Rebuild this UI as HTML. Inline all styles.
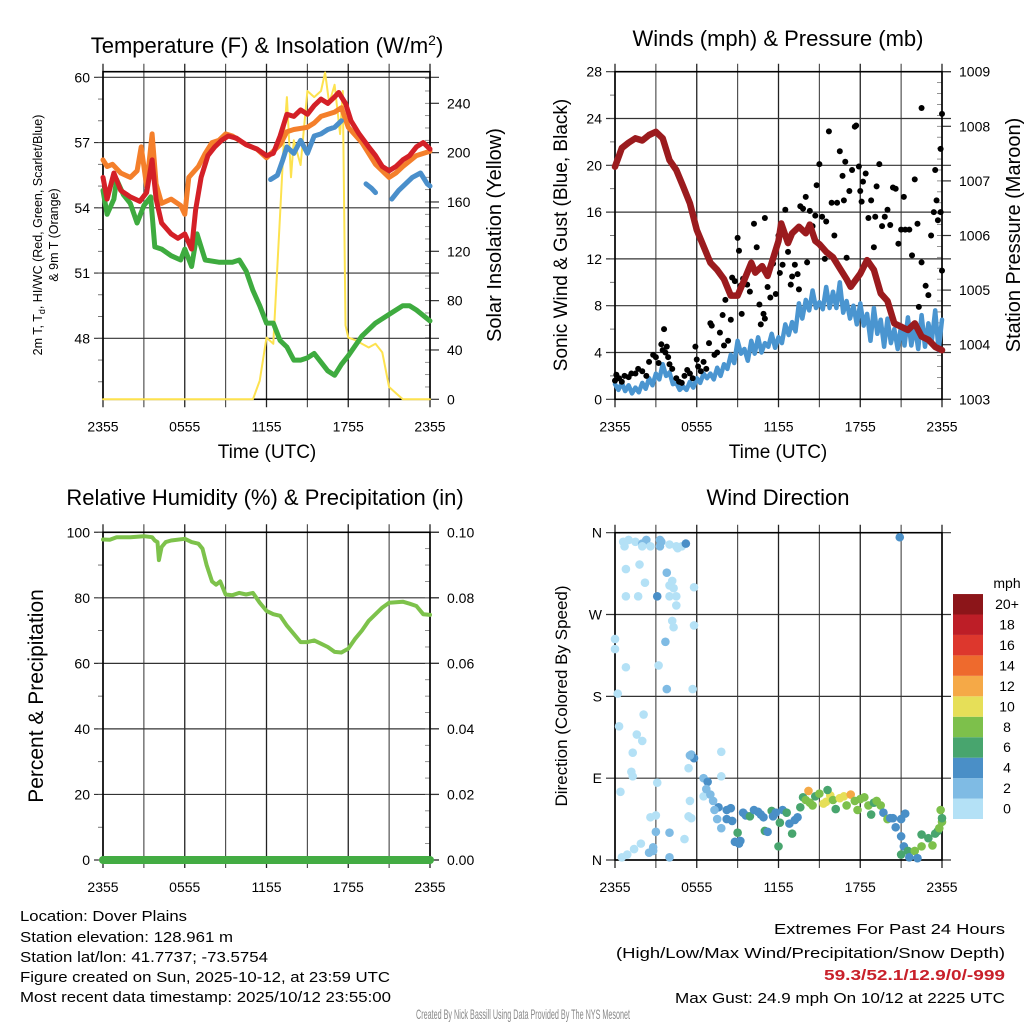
<!DOCTYPE html>
<html><head><meta charset="utf-8"><style>
body{margin:0;background:#fff}
svg{display:block;font-family:"Liberation Sans",sans-serif}
</style></head><body>
<svg id="s" width="1024" height="1024" viewBox="0 0 1024 1024">
<g id="g"></g>
<text x="267" y="53" font-size="22" text-anchor="middle">Temperature (F) &amp; Insolation (W/m<tspan dy="-8" font-size="14">2</tspan><tspan dy="8">)</tspan></text>
<text x="778" y="46" font-size="22" text-anchor="middle">Winds (mph) &amp; Pressure (mb)</text>
<text x="265" y="505" font-size="22" text-anchor="middle">Relative Humidity (%) &amp; Precipitation (in)</text>
<text x="778" y="505" font-size="22" text-anchor="middle">Wind Direction</text>
<text x="267" y="458" font-size="19" text-anchor="middle">Time (UTC)</text>
<text x="778" y="458" font-size="19" text-anchor="middle">Time (UTC)</text>
<text transform="translate(42,235) rotate(-90)" font-size="12.5" text-anchor="middle">2m T, T<tspan dy="3" font-size="9">d</tspan><tspan dy="-3">, HI/WC (Red, Green, Scarlet/Blue)</tspan></text>
<text transform="translate(58,235) rotate(-90)" font-size="12.5" text-anchor="middle">&amp; 9m T (Orange)</text>
<text transform="translate(501,235) rotate(-90)" font-size="20" text-anchor="middle">Solar Insolation (Yellow)</text>
<text transform="translate(567,235) rotate(-90)" font-size="19" text-anchor="middle">Sonic Wind &amp; Gust (Blue, Black)</text>
<text transform="translate(1020,235) rotate(-90)" font-size="20" text-anchor="middle">Station Pressure (Maroon)</text>
<text transform="translate(43,696) rotate(-90)" font-size="21" text-anchor="middle">Percent &amp; Precipitation</text>
<text transform="translate(567,696) rotate(-90)" font-size="17" text-anchor="middle">Direction (Colored By Speed)</text>
<text x="1007" y="588" font-size="14" text-anchor="middle">mph</text>
<g font-size="14.5">
<text x="20" y="921" textLength="167" lengthAdjust="spacingAndGlyphs">Location: Dover Plains</text>
<text x="20" y="942" textLength="213" lengthAdjust="spacingAndGlyphs">Station elevation: 128.961 m</text>
<text x="20" y="962" textLength="248" lengthAdjust="spacingAndGlyphs">Station lat/lon: 41.7737; -73.5754</text>
<text x="20" y="982" textLength="370" lengthAdjust="spacingAndGlyphs">Figure created on Sun, 2025-10-12, at 23:59 UTC</text>
<text x="20" y="1002" textLength="371" lengthAdjust="spacingAndGlyphs">Most recent data timestamp: 2025/10/12 23:55:00</text>
</g>
<g font-size="15">
<text x="1005" y="934" text-anchor="end" textLength="231" lengthAdjust="spacingAndGlyphs">Extremes For Past 24 Hours</text>
<text x="1005" y="958" text-anchor="end" textLength="389" lengthAdjust="spacingAndGlyphs">(High/Low/Max Wind/Precipitation/Snow Depth)</text>
<text x="1005" y="980" text-anchor="end" fill="#c8202a" font-weight="bold" textLength="181" lengthAdjust="spacingAndGlyphs">59.3/52.1/12.9/0/-999</text>
<text x="1005" y="1003" text-anchor="end" textLength="330" lengthAdjust="spacingAndGlyphs">Max Gust: 24.9 mph On 10/12 at 2225 UTC</text>
</g>
<text x="523" y="1019" font-size="14" fill="#888" text-anchor="middle" textLength="214" lengthAdjust="spacingAndGlyphs">Created By Nick Bassill Using Data Provided By The NYS Mesonet</text>
</svg>
<script>
// ---- Temperature panel data (hours since 2355) ----
const tHours=[0,0.3,0.8,1.3,2,2.7,3.2,3.6,3.9,4.3,5,5.5,6,6.5,6.8,7.2,7.7,8.2,8.7,9.2,9.8,10.5,11.3,12,12.5,13,13.5,14,14.5,15,15.5,16,16.5,17,17.3,17.8,18.2,18.8,19.5,20,20.5,21,21.5,22,22.5,23,23.5,24];
const tempRed=[55.4,54.4,55.6,54.8,54.5,54.3,54.7,56.2,54.4,53.3,52.8,52.6,52.8,52.1,53.9,55.4,56.4,56.8,57.1,57.3,57.2,56.9,56.7,56.4,56.5,57.3,58.3,58.2,58.5,58.3,58.7,59.0,58.8,59.1,59.3,58.8,58.0,57.4,56.8,56.4,55.9,55.7,55.9,56.2,56.4,56.8,57.0,56.7];
const oHours=[0,0.3,0.7,1.3,2,2.5,2.8,3.2,3.6,3.9,4.3,5,5.7,6,6.3,7,7.5,8,8.5,9,9.5,10.5,11.3,12,13,13.5,14,15,15.5,16,17,17.5,18,19,20,21,21.5,22,23,24];
const tempOrange=[56.2,55.9,56.0,55.6,55.4,55.7,56.8,55.0,57.4,55.1,54.2,54.4,54.1,53.7,55.4,55.9,56.5,57.0,57.1,57.4,57.3,56.9,56.7,56.3,56.9,57.5,57.6,57.7,57.9,58.2,58.4,58.6,57.7,57.0,56.0,55.4,55.6,55.9,56.4,56.6];
const gHours=[0,0.3,0.8,1,1.5,2,2.5,3,3.5,3.8,4.3,5,5.7,6,6.5,6.9,7.5,8.5,9.5,10,10.5,11,11.5,12,12.5,13,13.5,14,14.5,15,15.5,16,16.5,17,17.5,18,19,20,21,22,22.5,23,24];
const dewGreen=[54.8,53.7,54.4,55.3,54.6,54.2,53.3,54.1,54.5,52.2,52.1,51.8,51.6,52.1,51.3,52.8,51.6,51.5,51.5,51.6,51.1,50.2,49.5,48.7,48.7,47.9,47.6,47.0,47.0,47.1,47.3,46.9,46.5,46.3,46.8,47.2,48.1,48.7,49.1,49.5,49.5,49.3,48.8];
const bHours=[12.3,12.8,13.2,13.5,14,14.5,15,15.5,16,16.5,17,17.5,null,19.3,19.7,20,null,21.2,21.7,22.2,22.7,23.3,23.8,24];
const hiwcBlue=[55.3,55.5,56.2,56.8,56.5,57.1,56.5,57.3,57.4,57.6,57.7,58.0,null,55.1,54.9,54.7,null,54.4,54.8,55.1,55.4,55.6,55.1,55.0];
const sHours=[0,11,11.5,12,12.5,13,13.3,13.5,13.8,14,14.5,15,15.5,16,16.3,16.6,17,17.4,17.6,17.8,18,18.5,19,19.5,20,20.5,21,21.5,22,24];
const solar=[0,0,15,50,45,150,215,245,180,210,190,250,245,250,265,240,255,215,250,60,50,48,45,42,45,38,10,5,0,0];
const tempTicks=[48,51,54,57,60];
const solarTicks=[0,40,80,120,160,200,240];
// ---- Wind panel data ----
const pHours=[0,0.5,1,1.5,2,2.5,3,3.5,4,4.5,5,5.5,6,6.5,7,7.5,8,8.5,9,9.5,10,10.3,10.8,11.2,11.5,12,12.2,12.7,13,13.5,14,14.3,14.7,15,15.5,16,16.5,17,17.3,18,18.5,19,19.5,20,20.5,21,21.5,22,22.5,23,23.5,24];
const pressure=[1007.26,1007.6,1007.7,1007.78,1007.74,1007.84,1007.9,1007.78,1007.38,1007.2,1006.9,1006.59,1006.1,1005.8,1005.5,1005.37,1005.2,1004.9,1004.9,1005.19,1005.5,1005.32,1005.44,1005.26,1005.5,1005.9,1006.22,1005.86,1006.04,1006.16,1006.04,1006.2,1005.9,1005.84,1005.7,1005.6,1005.4,1005.2,1005.06,1005.3,1005.55,1005.37,1004.94,1004.8,1004.39,1004.33,1004.27,1004.39,1004.15,1004.09,1003.96,1003.9];
const wHours=[0,0.25,0.5,0.75,1,1.25,1.5,1.75,2,2.25,2.5,2.75,3,3.25,3.5,3.75,4,4.25,4.5,4.75,5,5.25,5.5,5.75,6,6.25,6.5,6.75,7,7.25,7.5,7.75,8,8.25,8.5,8.75,9,9.25,9.5,9.75,10,10.25,10.5,10.75,11,11.25,11.5,11.75,12,12.25,12.5,12.75,13,13.25,13.5,13.75,14,14.25,14.5,14.75,15,15.25,15.5,15.75,16,16.25,16.5,16.75,17,17.25,17.5,17.75,18,18.25,18.5,18.75,19,19.25,19.5,19.75,20,20.25,20.5,20.75,21,21.25,21.5,21.75,22,22.25,22.5,22.75,23,23.25,23.5,23.75,24];
const sonic=[1.3,0.8,1.4,0.7,1.2,0.5,1.0,0.6,1.4,0.9,1.8,1.2,2.2,1.7,3.0,2.0,2.3,1.3,1.4,0.8,1.1,0.8,1.5,1.0,1.8,1.4,2.2,1.8,2.2,1.7,2.7,2.0,3.0,2.6,3.8,3.1,5.0,3.9,4.3,3.3,5.0,3.9,5.3,4.0,4.8,4.5,5.6,4.4,5.3,4.8,6.4,5.5,6.6,5.8,8.2,6.9,8.5,7.6,9.3,7.8,8.3,7.7,9.6,7.8,9.2,7.8,10.0,7.4,8.4,6.9,8.0,6.4,8.2,6.3,7.3,5.0,7.8,5.6,6.8,4.5,6.9,4.8,6.0,4.3,6.3,4.6,7.0,4.6,6.3,4.3,7.2,4.5,6.5,5.0,7.6,4.2,6.8];
const gustHours=[0,0.1,0.3,0.5,0.7,1,1.2,1.5,1.7,2,2.3,2.5,2.8,3,3.2,3.4,3.5,3.6,3.7,3.8,3.9,4,4.2,4.5,4.7,4.9,5.1,5.3,5.5,5.7,5.9,6,6.1,6.3,6.5,6.7,6.9,7,7.1,7.3,7.5,7.7,7.9,8,8.1,8.3,8.5,8.6,8.8,9,9.1,9.2,9.3,9.4,9.7,9.9,10.2,10.4,10.6,10.7,10.9,11,11,11.2,11.4,11.6,11.8,12,12.1,12.3,12.5,12.7,12.9,13,13.2,13.4,13.5,13.6,13.8,14,14.1,14.3,14.5,14.7,14.8,15,15.2,15.4,15.5,15.7,15.9,16.1,16.3,16.5,16.7,16.8,16.9,17,17.2,17.4,17.6,17.7,17.9,18,18.1,18.2,18.4,18.6,18.8,19,19.1,19.2,19.4,19.6,19.8,20,20.2,20.4,20.6,20.8,21,21.2,21.3,21.6,21.8,22,22.2,22.3,22.5,22.5,22.8,23,23.2,23.4,23.5,23.6,23.7,23.9,24,24,23.9];
const gust=[1.6,2.1,1.8,1.5,2.0,1.9,2.2,2.2,2.6,2.4,2.0,3.2,3.8,3.6,3.1,4.7,4.2,6.0,4.0,4.5,3.6,3.0,2.6,1.8,1.5,1.4,2.0,2.5,2.2,1.8,4.5,3.4,2.8,2.4,3.2,2.6,4.8,6.5,6.3,3.8,4.0,5.7,7.2,4.6,8.5,5.0,6.8,10.4,10.1,13.8,12.7,9.7,7.3,10.3,9.8,9.2,15.0,13.0,8.1,6.4,7.3,6.9,15.5,9.6,8.7,11.6,9.0,14.0,10.8,11.5,16.2,12.6,9.8,10.5,11.5,10.7,9.4,16.5,16.3,17.3,11.7,16.1,14.8,15.7,18.3,20.1,15.6,12.0,15.2,22.9,16.8,14.0,16.8,21.2,19.1,17.0,20.3,12.1,17.8,19.6,23.3,23.4,19.9,17.8,16.9,18.6,19.3,15.5,17.0,13.0,15.6,18.2,20.1,14.8,15.6,16.2,14.9,18.1,18.0,13.3,14.5,17.3,14.5,14.5,12.3,18.8,15.0,7.9,24.9,11.7,9.7,8.9,14.0,16.0,19.6,17.0,15.3,21.4,11.0,24.4,16.0];
const windTicks=[0,4,8,12,16,20,24,28];
const presTicks=[1003,1004,1005,1006,1007,1008,1009];
// ---- Humidity panel data ----
const rhHours=[0,0.5,1,2,3,3.6,3.8,4.0,4.1,4.3,4.6,5,6,6.5,7,7.3,7.6,8,8.3,8.6,9,9.5,10,10.5,11,11.5,12,12.5,13,13.5,14,14.5,15,15.5,16,16.5,17,17.5,18,18.5,19,19.5,20,20.5,21,22,22.5,23,23.5,24];
const rh=[97.8,97.7,98.5,98.5,98.8,98.5,97.5,97,91.5,95.5,97,97.5,98,97,96.5,95,90,85,84,85,81,80.8,81.5,81,81.5,78.5,76,75,74.5,71.5,69,66.5,66.5,67,66,65,63.5,63.3,64.5,67.5,70,73,75,77,78.5,78.8,78.2,77.5,75,74.8];
const precipHours=[0,24];
const precip=[0,0];
const rhTicks=[0,20,40,60,80,100];
const precipTicks=["0.00","0.02","0.04","0.06","0.08","0.10"];
// ---- Wind direction data ----
const dirHours=[0.6,1.0,1.5,0.7,2.0,2.3,2.6,2.0,3.3,3.4,3.3,4.0,4.5,4.9,4.6,5.2,0.8,1.8,2.2,0.8,1.7,3.1,4.0,4.5,4.2,4.0,4.3,3.8,4.5,5.8,4.2,4.3,5.8,3.7,0,0,0.8,3.2,3.8,5.7,0.2,2.1,0.3,1.6,2.0,1.3,1.2,1.3,3.1,0.4,2.6,3.0,1.4,0.5,0.9,1.9,2.5,2.8,2.8,3.0,4.0,5.1,4.0,5.4,5.5,5.6,5.4,5.6,5.8,5.5,7.8,7.8,6.5,6.5,6.8,6.7,7.0,7.2,7.6,8.2,8.2,7.3,7.5,7.8,8.6,8.5,9.0,8.8,9.2,9.1,9.4,9.6,9.9,10.2,10.5,10.7,10.9,11.0,11.2,11.5,11.6,11.8,12.0,12.1,12.3,12.6,12.8,13.0,13.2,13.4,13.6,13.8,14.0,14.2,14.3,14.5,14.7,15.0,15.3,15.5,15.8,15.6,16.0,16.2,16.5,16.8,17.0,17.3,17.6,17.8,18.0,18.3,18.6,18.8,19.0,19.2,19.5,19.7,20.0,20.2,20.4,20.6,21.0,21.3,21.0,21.2,21.5,21.0,21.6,22.0,22.2,22.5,22.5,23.0,23.3,23.5,23.7,23.8,24.0,24.0,23.9,20.9];
const dirDeg=[350,352,350,345,348,352,345,345,352,350,345,347,345,345,343,348,320,325,305,290,290,290,290,290,307,302,299,316,280,300,263,256,258,240,243,232,212,214,188,188,183,160,147,138,131,118,97,92,85,75,47,49,12,3,6,18,8,10,14,31,30,23,3,48,65,46,101,116,112,115,119,92,70,90,86,78,72,65,58,55,45,55,45,35,43,57,30,20,21,18,52,49,48,55,53,50,47,32,31,54,48,52,15,41,55,52,40,29,44,47,58,69,66,76,63,60,70,73,62,64,71,77,66,56,68,70,60,72,65,55,67,69,60,50,63,65,60,52,45,46,46,36,45,51,26,15,10,6,3,10,2,15,28,24,16,29,32,35,42,46,55,355];
const dirSpeed=[0,0,0,0,3,2,0,0,3,3,2,0,0,0,0,4,0,0,0,0,0,4,0,0,0,0,0,3,0,0,0,0,0,3,0,0,0,0,3,0,0,0,0,0,0,0,0,0,0,0,0,0,0,0,0,0,2,2,3,3,3,0,3,0,0,0,0,3,4,2,0,0,0,2,4,2,2,2,4,4,4,2,2,2,4,4,6,4,4,4,4,4,6,4,4,4,4,6,4,6,4,4,6,6,4,6,4,6,4,4,6,6,8,12,8,8,6,8,10,10,10,6,8,6,10,10,8,12,8,8,8,8,8,6,6,8,8,4,8,4,4,4,4,4,4,4,6,6,4,8,4,8,6,6,8,6,6,8,8,6,8,4];
const speedBins=["0","2","4","6","8","10","12","14","16","18","20+"];
const timeLabels=["2355","0555","1155","1755","2355"];

const NS="http://www.w3.org/2000/svg";
const G=document.getElementById('g');
function el(tag,attrs,parent){const e=document.createElementNS(NS,tag);for(const k in attrs)e.setAttribute(k,attrs[k]);(parent||G).appendChild(e);return e;}
const binColors=['#b4e1f6','#7fbbe4','#4a8fc7','#48a56e','#7dc04b','#e6df58','#f5a947','#ee6a2d','#dd372d','#bd1e27','#8c1519'];

function makePanel(p){
  const xs=h=>p.x0+h/24*(p.x1-p.x0);
  for(let i=0;i<=8;i++){
    const x=xs(i*3);
    const l=el('line',{x1:x,x2:x,y1:p.y0-8,y2:p.y1+8,stroke:i%2?'#444':'#222','stroke-width':i%2?1.1:1.3});
    
    
  }
  timeLabels.forEach((t,i)=>{
    const tx=el('text',{x:xs(i*6),y:p.y1+32,'font-size':14,'text-anchor':'middle'});
    tx.textContent=t;
    
    
  });
  return xs;
}
function leftAxis(p,ticks,ys,fmt,minorStep,minVal,maxVal){
  ticks.forEach(v=>{
    const y=ys(v);
    const l=el('line',{x1:p.x0-9,x2:p.x1+9,y1:y,y2:y,stroke:'#333','stroke-width':1.2});
    
    
    const t=el('text',{x:p.x0-13,y:y+5,'font-size':14,'text-anchor':'end'});
    t.textContent=fmt?fmt(v):v;
    
    
  });
  if(minorStep)for(let v=minVal;v<=maxVal+1e-9;v+=minorStep){const y=ys(v);el('line',{x1:p.x0-5,x2:p.x0,y1:y,y2:y,stroke:'#555','stroke-width':0.8});}
}
function rightAxis(p,ticks,ys,labels,minorStep,minVal,maxVal){
  ticks.forEach((v,i)=>{
    const y=ys(v);
    el('line',{x1:p.x1,x2:p.x1+9,y1:y,y2:y,stroke:'#333','stroke-width':1.2});
    const t=el('text',{x:p.x1+17,y:y+5,'font-size':14});
    t.textContent=labels?labels[i]:v;
    
    
  });
  if(minorStep)for(let v=minVal;v<=maxVal+1e-9;v+=minorStep){const y=ys(v);el('line',{x1:p.x1-5,x2:p.x1,y1:y,y2:y,stroke:'#777','stroke-width':0.8});}
}
function border(p){
  const r=el('rect',{x:p.x0,y:p.y0,width:p.x1-p.x0,height:p.y1-p.y0,fill:'none',stroke:'#000','stroke-width':1.6});
  
  
}
function pathOf(hs,vs,xs,ys){
  let d='',pen=false;
  for(let i=0;i<hs.length;i++){
    if(hs[i]===null||vs[i]===null){pen=false;continue;}
    d+=(pen?'L':'M')+xs(hs[i]).toFixed(1)+','+ys(vs[i]).toFixed(1);pen=true;
  }
  return d;
}
function line(hs,vs,xs,ys,color,w,name){
  const e=el('path',{d:pathOf(hs,vs,xs,ys),fill:'none',stroke:color,'stroke-width':w,'stroke-linejoin':'round','stroke-linecap':'round'});
  
  
  return e;
}

// Panel 1
const P1={x0:103,x1:430,y0:71.7,y1:399.3};
const xs1=makePanel(P1);
const yT=v=>338.3-(v-48)*21.75;
const yS=v=>399.3-v*1.2333;
leftAxis(P1,tempTicks,yT,null,1,46,60);
rightAxis(P1,solarTicks,yS,null,10,0,260);
border(P1);
line(sHours,solar,xs1,yS,'#fde24f',2,'solar-insolation-line');
line(oHours,tempOrange,xs1,yT,'#f47f2b',5,'9m-temperature-line');
line(gHours,dewGreen,xs1,yT,'#3eab3f',5,'dewpoint-line');
line(tHours,tempRed,xs1,yT,'#d42027',5,'2m-temperature-line');
line(bHours,hiwcBlue,xs1,yT,'#4a8fcb',5,'heat-index-wind-chill-line');

// Panel 2
const P2={x0:615,x1:942,y0:71.7,y1:399.3};
const xs2=makePanel(P2);
const yW=v=>399.3-v*11.7;
const yP=v=>399.3-(v-1003)*54.6;
leftAxis(P2,windTicks,yW,null,2,0,28);
rightAxis(P2,presTicks,yP,null,0.2,1003,1009);
border(P2);
line(wHours,sonic,xs2,yW,'#4a95d0',4.5,'sonic-wind-line');
gustHours.forEach((h,i)=>{
  const c=el('circle',{cx:xs2(h),cy:yW(gust[i]),r:3,fill:'#000'});
  
  
});
line(pHours,pressure,xs2,yP,'#9b1b1e',6.5,'pressure-line');

// Panel 3
const P3={x0:103,x1:430,y0:532.3,y1:860};
const xs3=makePanel(P3);
const yR=v=>860-v*3.2773;
leftAxis(P3,rhTicks,yR,null,10,0,100);
rightAxis(P3,rhTicks,yR,precipTicks,5,0,100);
border(P3);
line(rhHours,rh,xs3,yR,'#7dc24b',4,'relative-humidity-line');
line(precipHours,precip.map(v=>v*1000),xs3,yR,'#43ac43',8,'precipitation-line');

// Panel 4
const P4={x0:615,x1:942,y0:532.7,y1:860};
const xs4=makePanel(P4);
const yD=v=>860-v/360*327.3;
leftAxis(P4,[0,90,180,270,360],yD,v=>['N','E','S','W','N'][v/90],null);
border(P4);
dirHours.forEach((h,i)=>{
  const sp=dirSpeed[i]===undefined?0:dirSpeed[i];
  const b=Math.min(10,Math.floor(sp/2+0.001));
  const c=el('circle',{cx:xs4(h),cy:yD(dirDeg[i]),r:4.3,fill:binColors[b]});
  
  
});
speedBins.forEach((lab,i)=>{
  const y=819-(i+1)*20.45;
  const r=el('rect',{x:953,y:y,width:30,height:20.45,fill:binColors[i]});
  
  
  const t=el('text',{x:1007,y:y+15,'font-size':14,'text-anchor':'middle'});
  t.textContent=lab;
  
  
});
</script>
</body></html>
